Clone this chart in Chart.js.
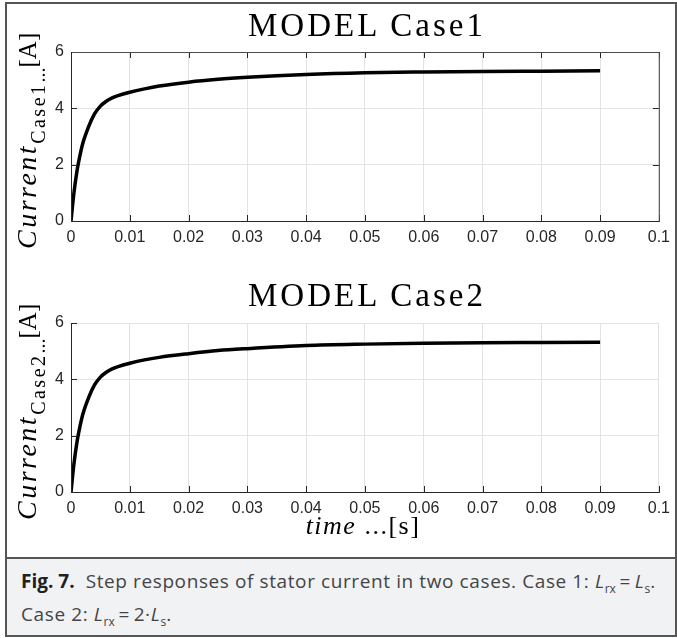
<!DOCTYPE html>
<html>
<head>
<meta charset="utf-8">
<script src="https://cdn.jsdelivr.net/npm/chart.js@4"></script>
<style>
  html, body { margin: 0; padding: 0; background: #fff; }
  body { width: 677px; height: 638px; position: relative; overflow: hidden; }
  #frame { position: absolute; left: 5px; top: 2px; width: 672px; height: 635px; box-sizing: border-box;
           border: 2px solid #555; }
  #caption { position: absolute; left: 5px; top: 557px; width: 672px; height: 80px; box-sizing: border-box;
             background: #f1f2f4; border: 2px solid #555; }
  #capText { position: absolute; left: 21px; top: 566px; font-family: "Open Sans", sans-serif; font-size: 19px;
             letter-spacing: 0.6px; line-height: 31px; color: #444; white-space: nowrap; }
  #capText b { color: #231f20; letter-spacing: 0; }
  .sb { font-size: 12px; position: relative; top: 5px; letter-spacing: 0; }
  canvas { position: absolute; left: 0; }
  #c1 { top: 0; }
  #c2 { top: 271px; }
  .title { position: absolute; left: 73px; width: 588px; text-align: center; font-family: "Liberation Serif", serif;
           font-size: 33px; line-height: 33px; letter-spacing: 3px; color: #000; white-space: nowrap; }
  .ylab { position: absolute; transform: rotate(-90deg); transform-origin: 0 0; white-space: nowrap;
          font-family: "Liberation Serif", serif; font-size: 28px; line-height: 28px; color: #000; }
  .ylab i { letter-spacing: 2.5px; }
  .ylab .sub { font-size: 20px; position: relative; top: 9px; letter-spacing: 2.5px; }
  .ylab .dots { font-size: 20px; position: relative; top: 9px; }
  .ylab .unit { font-size: 25px; }
  #xlab { position: absolute; left: 71px; width: 584px; top: 513px; text-align: center; font-family: "Liberation Serif", serif;
          font-size: 26px; line-height: 26px; letter-spacing: 1.5px; color: #000; white-space: nowrap; }
</style>
</head>
<body>
<div id="frame"></div>
<canvas id="c1" width="677" height="270"></canvas>
<canvas id="c2" width="677" height="270"></canvas>
<div class="title" style="top:9px">MODEL Case1</div>
<div class="title" style="top:279px">MODEL Case2</div>
<div class="ylab" style="left:13px; top:249px"><i>Current</i><span class="sub">Case1</span><span class="dots">...</span><span class="unit">[A]</span></div>
<div class="ylab" style="left:13px; top:520px"><i>Current</i><span class="sub">Case2</span><span class="dots">...</span><span class="unit">[A]</span></div>
<div id="xlab"><i>time</i> ...[s]</div>
<div id="caption"></div>
<div id="capText"><b>Fig. 7.</b>&nbsp; Step responses of stator current in two cases. Case 1: <i>L</i><span class="sb">rx</span>&#8201;=&#8201;<i>L</i><span class="sb">s</span>.<br>Case 2: <i>L</i><span class="sb">rx</span>&#8201;=&#8201;2·<i>L</i><span class="sb">s</span>.</div>

<script>
// values (time in s, current in A)
const timeS = [0, 0.0005, 0.001, 0.0015, 0.002, 0.003, 0.004, 0.005, 0.006, 0.007, 0.008,
               0.01, 0.0125, 0.015, 0.02, 0.025, 0.03, 0.04, 0.05, 0.06, 0.07, 0.08, 0.09];
const currentCase1 = [0, 1.0, 1.75, 2.3, 2.75, 3.35, 3.8, 4.08, 4.25, 4.37, 4.45,
                      4.57, 4.69, 4.79, 4.93, 5.03, 5.10, 5.20, 5.26, 5.29, 5.31, 5.32, 5.33];
const currentCase2 = [0, 1.0, 1.75, 2.3, 2.75, 3.35, 3.8, 4.08, 4.25, 4.37, 4.45,
                      4.57, 4.69, 4.78, 4.91, 5.02, 5.09, 5.20, 5.25, 5.28, 5.30, 5.31, 5.32];
const xTickValues = [0, 0.01, 0.02, 0.03, 0.04, 0.05, 0.06, 0.07, 0.08, 0.09, 0.1];
const xTickLabels = ['0', '0.01', '0.02', '0.03', '0.04', '0.05', '0.06', '0.07', '0.08', '0.09', '0.1'];
const yTickValues = [0, 2, 4, 6];

const axisColor = '#262626';
const tickFont = { family: '"Liberation Sans", Arial, sans-serif', size: 16 };

// inward MATLAB-style ticks and the axes box
const matlabAxes = {
  id: 'matlabAxes',
  afterDraw(chart, args, opts) {
    const ctx = chart.ctx;
    const a = chart.chartArea;
    const x = chart.scales.x, y = chart.scales.y;
    const len = 6;
    ctx.save();
    ctx.lineWidth = 1;
    ctx.strokeStyle = axisColor;
    ctx.beginPath();
    x.ticks.forEach(t => {
      const px = Math.round(x.getPixelForValue(t.value)) + 0.5;
      ctx.moveTo(px, a.bottom); ctx.lineTo(px, a.bottom - len);
      if (opts.box) { ctx.moveTo(px, a.top); ctx.lineTo(px, a.top + len); }
    });
    y.ticks.forEach(t => {
      const py = Math.round(y.getPixelForValue(t.value)) + 0.5;
      ctx.moveTo(a.left, py); ctx.lineTo(a.left + len, py);
      if (opts.box) { ctx.moveTo(a.right, py); ctx.lineTo(a.right - len, py); }
    });
    ctx.stroke();
    if (opts.box) {
      ctx.strokeStyle = '#4d4d4d';
      ctx.beginPath();
      ctx.moveTo(a.left, a.top + 0.5); ctx.lineTo(a.right + 0.5, a.top + 0.5); ctx.lineTo(a.right + 0.5, a.bottom);
      ctx.stroke();
    }
    ctx.strokeStyle = axisColor;
    ctx.beginPath();
    ctx.moveTo(a.left + 0.5, a.top); ctx.lineTo(a.left + 0.5, a.bottom + 0.5); ctx.lineTo(a.right + 1, a.bottom + 0.5);
    ctx.stroke();
    ctx.restore();
  }
};

function makeChart(id, values, box) {
  const ctx = document.getElementById(id).getContext('2d');
  return new Chart(ctx, {
    type: 'line',
    data: {
      datasets: [{
        data: timeS.map((t, i) => ({ x: t, y: values[i] })),
        borderColor: '#000',
        borderWidth: 3.5,
        pointRadius: 0,
        cubicInterpolationMode: 'monotone',
        fill: false
      }]
    },
    options: {
      responsive: false,
      animation: false,
      layout: { padding: { left: 0, top: 52, right: 18, bottom: 0 } },
      plugins: {
        legend: { display: false },
        tooltip: { enabled: false },
        title: { display: false },
        matlabAxes: { box: box }
      },
      scales: {
        x: {
          type: 'linear',
          min: 0,
          max: 0.1,
          afterBuildTicks: s => { s.ticks = xTickValues.map(v => ({ value: v })); },
          afterFit: s => { s.height = 49; },
          grid: { color: '#e3e3e3', drawTicks: false },
          border: { display: false },
          ticks: {
            padding: 7,
            maxRotation: 0,
            autoSkip: false,
            color: axisColor,
            font: tickFont,
            callback: (v, i) => xTickLabels[i]
          }
        },
        y: {
          min: 0,
          max: 6,
          afterBuildTicks: s => { s.ticks = yTickValues.map(v => ({ value: v })); },
          afterFit: s => { s.width = 71; },
          grid: { color: '#e3e3e3', drawTicks: false },
          border: { display: false },
          ticks: { padding: 7, color: axisColor, font: tickFont }
        }
      }
    },
    plugins: [matlabAxes]
  });
}

makeChart('c1', currentCase1, true);
makeChart('c2', currentCase2, false);
</script>
</body>
</html>
